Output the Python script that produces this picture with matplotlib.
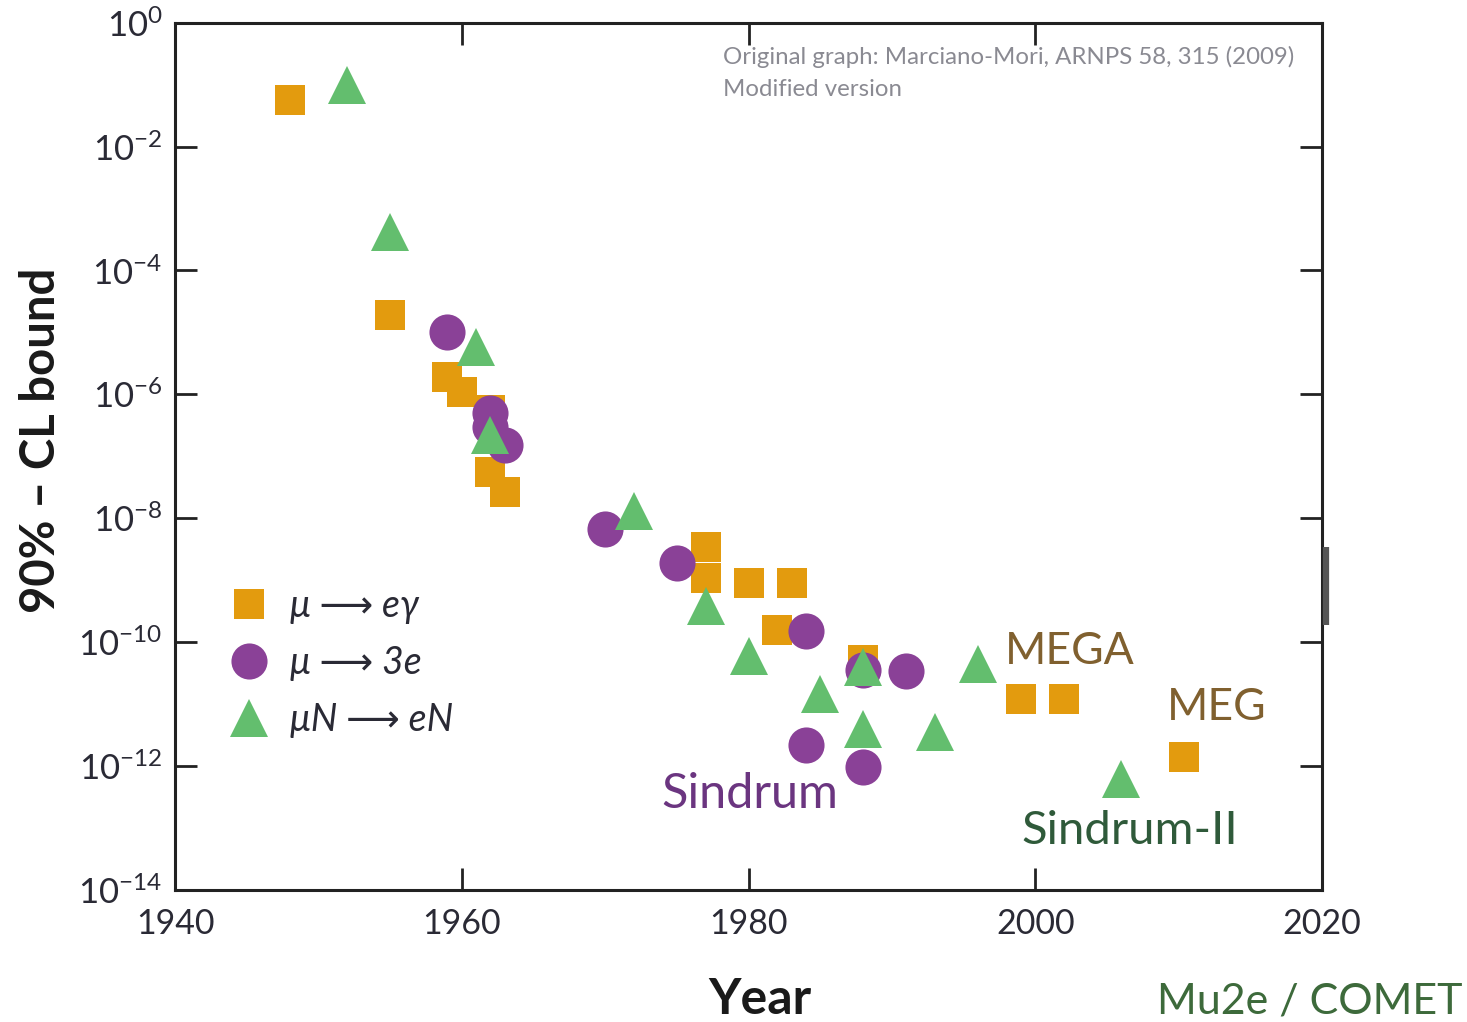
import matplotlib
matplotlib.use("Agg")
import matplotlib.pyplot as plt
from matplotlib.lines import Line2D

# ---- data ----
meg_years = [1948, 1955, 1959, 1960, 1962, 1962, 1963, 1977, 1977, 1980, 1983, 1982, 1988, 1999, 2002, 2010.4]
meg_vals = [5.6e-2, 1.9e-5, 1.9e-6, 1.1e-6, 5.6e-7, 5.6e-8, 2.7e-8, 3.4e-9, 1.1e-9, 9.1e-10, 9.1e-10, 1.6e-10, 5.2e-11, 1.2e-11, 1.2e-11, 1.4e-12]

m3e_years = [1959, 1962, 1962, 1963, 1970, 1975, 1984, 1988, 1991, 1984, 1988]
m3e_vals = [1.0e-5, 5.0e-7, 3.0e-7, 1.55e-7, 6.8e-9, 1.9e-9, 1.5e-10, 3.6e-11, 3.4e-11, 2.2e-12, 9.5e-13]

men_years = [1952, 1955, 1961, 1962, 1972, 1977, 1980, 1985, 1988, 1988, 1993, 1996, 2006]
men_vals = [1.0e-1, 4.2e-4, 5.9e-6, 2.2e-7, 1.3e-8, 3.8e-10, 5.9e-11, 1.45e-11, 3.9e-11, 3.9e-12, 3.6e-12, 4.4e-11, 6.2e-13]

series_labels = ["\u03bc \u27f6 e\u03b3", "\u03bc \u27f6 3e", "\u03bcN \u27f6 eN"]
xticks = [1940, 1960, 1980, 2000, 2020]
ytick_exps = [0, -2, -4, -6, -8, -10, -12, -14]

C_ORANGE = "#E39B0E"
C_PURPLE = "#8A4197"
C_GREEN = "#63BE6E"

FONT = ["Lato", "DejaVu Sans"]
plt.rcParams["font.family"] = FONT
plt.rcParams["mathtext.fontset"] = "custom"
plt.rcParams["mathtext.rm"] = "Lato"
plt.rcParams["mathtext.it"] = "Lato:italic"
plt.rcParams["mathtext.default"] = "regular"

fig = plt.figure(figsize=(14.67, 10.22), dpi=100)
ax = fig.add_axes([0.1193, 0.1292, 0.9012 - 0.1193, 0.9778 - 0.1292])
ax.set_yscale("log")
ax.set_xlim(1940, 2020)
ax.set_ylim(1e-14, 1)

ax.plot(meg_years, meg_vals, "s", color=C_ORANGE, ms=21.5, mew=0, zorder=3)
ax.plot(m3e_years, m3e_vals, "o", color=C_PURPLE, ms=26, mew=0, zorder=4)
ax.plot(men_years, men_vals, "^", color=C_GREEN, ms=27, mew=0, zorder=5)

ax.set_xticks(xticks)
ax.set_xticklabels([str(x) for x in xticks])
ax.set_yticks([10.0 ** e for e in ytick_exps])
ax.set_yticklabels([r"$10^{%s}$" % ("\u2212%d" % -e if e < 0 else "0") for e in ytick_exps])
ax.yaxis.set_minor_locator(matplotlib.ticker.NullLocator())
ax.tick_params(axis="both", which="major", direction="in", length=16, width=2,
               top=True, right=True, colors="#222222")
ax.tick_params(axis="x", labelsize=24.5, pad=13, labelcolor="#2a2a35")
ax.tick_params(axis="y", labelsize=25, pad=9, labelcolor="#2a2a35")
for s in ax.spines.values():
    s.set_linewidth(2.2)
    s.set_color("#222222")

# thick segment on the right frame, as in the reference
ax.plot([1.003, 1.003], [0.306, 0.396], transform=ax.transAxes, color="#555555",
        lw=4.5, solid_capstyle="butt", clip_on=False, zorder=6)

fig.text(0.518, 0.008, "Year", fontsize=36, fontweight="bold", ha="center", va="baseline", color="#1a1a1a")
fig.text(0.028, 0.569, "90% \u2013 CL bound", fontsize=34, fontweight="bold", rotation=90,
         ha="center", va="center", color="#1a1a1a")
fig.text(0.997, 0.008, "Mu2e / COMET", fontsize=31, ha="right", va="baseline", color="#3d6a3b")

ax.text(0.478, 0.961, "Original graph: Marciano-Mori, ARNPS 58, 315 (2009)", transform=ax.transAxes,
        fontsize=17.3, color="#8a8a92", ha="left", va="center")
ax.text(0.478, 0.923, "Modified version", transform=ax.transAxes,
        fontsize=17.3, color="#8a8a92", ha="left", va="center")

ax.text(1997.9, 10 ** -10.15, "MEGA", fontsize=32, color="#80602f", ha="left", va="center")
ax.text(2009.2, 10 ** -11.05, "MEG", fontsize=32, color="#80602f", ha="left", va="center")
ax.text(1980.1, 10 ** -12.45, "Sindrum", fontsize=35, color="#6b3580", ha="center", va="center")
ax.text(2006.6, 10 ** -13.05, "Sindrum-II", fontsize=34, color="#2f5a3a", ha="center", va="center")

handles = [
    Line2D([], [], ls="none", marker="s", ms=21.5, mew=0, color=C_ORANGE),
    Line2D([], [], ls="none", marker="o", ms=26, mew=0, color=C_PURPLE),
    Line2D([], [], ls="none", marker="^", ms=27, mew=0, color=C_GREEN),
]
leg = ax.legend(handles, series_labels, loc="upper left", bbox_to_anchor=(0.035, 0.365),
                frameon=False, fontsize=27, handlelength=1.0, handletextpad=0.6,
                labelspacing=0.55, borderaxespad=0)
for t in leg.get_texts():
    t.set_color("#2a2a35")
    t.set_family(["Lato", "DejaVu Sans"])
    t.set_style("italic")

fig.savefig("out.png", dpi=100)
